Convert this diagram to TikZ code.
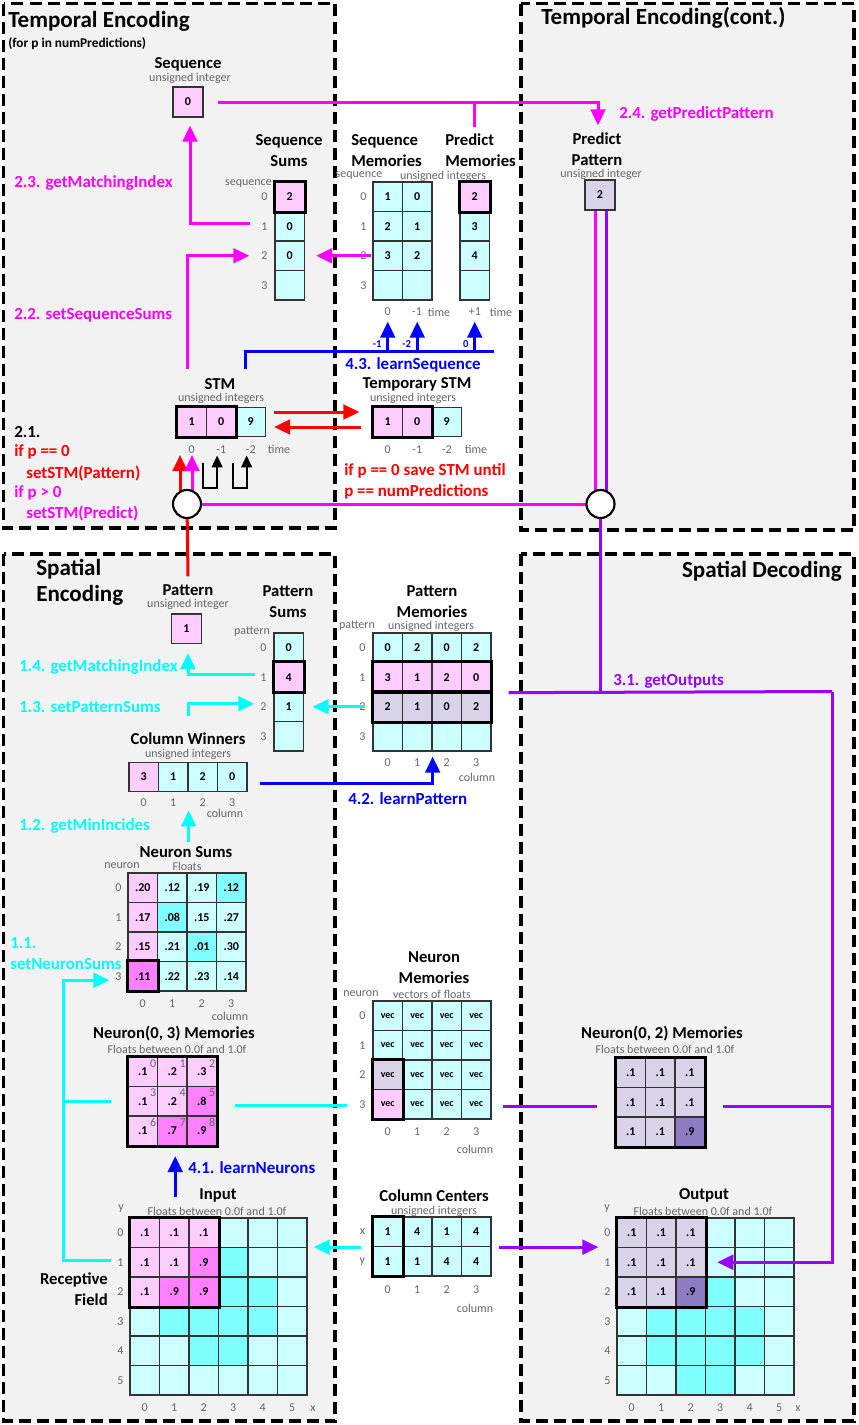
\documentclass[tikz,border=0pt]{standalone}
\usepackage{fontspec}
\setmainfont{Carlito}
\usetikzlibrary{arrows.meta,calc}

\definecolor{panelgray}{HTML}{F2F2F2}
\definecolor{lc}{HTML}{CCFFFF}
\definecolor{dc}{HTML}{80FFFF}
\definecolor{pk}{HTML}{FFCCFF}
\definecolor{mc}{HTML}{FF80FF}
\definecolor{lv}{HTML}{D9D2E9}
\definecolor{dp}{HTML}{8E7CC3}
\definecolor{txtgray}{HTML}{666666}
\definecolor{mgline}{HTML}{FF00FF}
\definecolor{cyline}{HTML}{00FFFF}
\definecolor{puline}{HTML}{9900FF}
\definecolor{blline}{HTML}{0000FF}
\definecolor{rdline}{HTML}{FF0000}

\tikzset{
  panel/.style={draw=black, line width=2.6pt, dash pattern=on 9pt off 4.5pt, fill=panelgray},
  cell/.style={draw=black!80, line width=1pt, minimum size=22.1pt, inner sep=0pt, font=\bfseries\fontsize{9}{10}\selectfont},
  hd/.style={font=\bfseries\fontsize{12.5}{15.75}\selectfont, align=center, inner sep=0pt},
  ttl/.style={font=\bfseries\fontsize{17.3}{19.5}\selectfont, inner sep=0pt, anchor=west},
  sub/.style={font=\fontsize{9}{10}\selectfont, text=txtgray, inner sep=0pt},
  ax/.style={font=\fontsize{9}{10}\selectfont, text=txtgray, inner sep=0pt},
  lbl/.style={font=\bfseries\fontsize{12.7}{15}\selectfont, anchor=west, inner sep=0pt},
  frame/.style={draw=black, line width=2.3pt},
  tip/.style={-{Triangle[length=12pt,width=11pt]}},
  mgl/.style={draw=mgline, line width=2.25pt},
  cyl/.style={draw=cyline, line width=2.25pt},
  pul/.style={draw=puline, line width=2.25pt},
  bll/.style={draw=blline, line width=2.25pt},
  rdl/.style={draw=rdline, line width=2.25pt},
  hub/.style={circle, draw=black, line width=1.6pt, fill=white, minimum size=21pt, inner sep=0pt},
}

% one row of cells: [extra style]{name}{left x}{centre y}{fill/value,...}
\newcommand{\cellrow}[5][]{%
  \foreach \f/\v [count=\c from 0] in {#5} {\node[cell, fill=\f, #1] (#2\c) at ({#3+29.5*\c+14.75},#4) {\v};}}

\begin{document}
\begin{tikzpicture}[x=0.75pt, y=-0.75pt]
\useasboundingbox (0,0) rectangle (858,1425);

% panels
\draw[panel] (3.5,3.5) rectangle (335,528);
\draw[panel] (521,3.5) rectangle (854,530);
\draw[panel] (3.5,554) rectangle (335,1421);
\draw[panel] (521,554) rectangle (854,1421);

\node[ttl] (tenc) at (8,21) {Temporal Encoding};
\node[font=\bfseries\fontsize{10}{12}\selectfont, anchor=west, inner sep=0pt] (forp) at (8,44) {(for p in numPredictions)};
\node[ttl] (tencc) at (541,18) {Temporal Encoding(cont.)};
\node[ttl, align=left] (senc) at (36,582) {Spatial\\Encoding};
\node[ttl, anchor=east] (sdec) at (842,571) {Spatial Decoding};

% ---- temporal encoding
\node[hd] (seqh) at (188,64) {Sequence};
\node[sub] at (190,78) {unsigned integer};
\node[cell, fill=pk, minimum size=22.5pt] (seq) at (188,102) {0};

\node[hd] (ssumh) at (289,150.5) {Sequence\\Sums};
\node[sub, anchor=east] at (272,184) {sequence};
\foreach \f/\v [count=\r from 0] in {pk/2,lc/0,lc/0,lc/{}} {
  \node[cell, fill=\f] (ssum\r) at (289.75,{182+29.5*\r+14.75}) {\v};
  \node[ax] at ([shift={(-10,0)}]ssum\r.west) {\r};}
\draw[frame] (ssum0.north west) rectangle (ssum0.south east);

\node[hd, anchor=west, align=left] (smemh) at (351,150.5) {Sequence\\Memories};
\node[sub] at (359,176) {sequence};
\node[sub] at (443,176) {unsigned integers};
\cellrow{smem0}{373}{196.75}{lc/1,lc/0}
\cellrow{smem1}{373}{226.25}{lc/2,lc/1}
\cellrow{smem2}{373}{255.75}{lc/3,lc/2}
\cellrow{smem3}{373}{285.25}{lc/{},lc/{}}
\foreach \r in {0,...,3} \node[ax] at ([shift={(-9,0)}]smem\r0.west) {\r};
\node[ax] at (387.75,312) {0};
\node[ax] at (417,312) {-1};
\node[ax] at (439,312) {time};

\node[hd, anchor=west, align=left] (pmemh) at (445,150.5) {Predict\\Memories};
\foreach \f/\v [count=\r from 0] in {pk/2,lc/3,lc/4,lc/{}}
  \node[cell, fill=\f] (pmem\r) at (474.75,{182+29.5*\r+14.75}) {\v};
\draw[frame] (pmem0.north west) rectangle (pmem0.south east);
\node[ax] at (475,312) {+1};
\node[ax] at (501,312) {time};

\node[hd] (ppath) at (597,149) {Predict\\Pattern};
\node[sub] at (601,174) {unsigned integer};
\node[cell, fill=lv, minimum size=22.5pt] (ppat) at (600,195) {2};

\node[hd] (stmh) at (220,384) {STM};
\node[sub] at (221,398) {unsigned integers};
\cellrow{stm}{177}{422}{pk/1,pk/0,lc/9}
\draw[frame] (stm0.north west) rectangle (stm1.south east);
\foreach \c/\t in {0/0,1/-1,2/-2} \node[ax] at ([shift={(0,12)}]stm\c.south) {\t};
\node[ax] at (279,449) {time};

\node[hd] (tstmh) at (417,384) {Temporary STM};
\node[sub] at (413,398) {unsigned integers};
\cellrow{tstm}{373}{422}{pk/1,pk/0,lc/9}
\draw[frame] (tstm0.north west) rectangle (tstm1.south east);
\foreach \c/\t in {0/0,1/-1,2/-2} \node[ax] at ([shift={(0,12)}]tstm\c.south) {\t};
\node[ax] at (476,449) {time};

\node[lbl] at (14,432) {2.1.};
\node[lbl, text=rdline] at (14,452) {if p == 0};
\node[lbl, text=rdline] at (26,473) {setSTM(Pattern)};
\node[lbl, text=mgline] at (14,493) {if p > 0};
\node[lbl, text=mgline] at (26,513) {setSTM(Predict)};
\node[lbl, text=mgline] at (14,183) {2.3. getMatchingIndex};
\node[lbl, text=mgline] at (14,315) {2.2. setSequenceSums};
\node[lbl, text=mgline] at (619,114) {2.4. getPredictPattern};
\node[lbl, text=blline] at (345,365) {4.3. learnSequence};
\node[lbl, text=rdline] at (344,471) {if p == 0 save STM until};
\node[lbl, text=rdline] at (344,492) {p == numPredictions};

% ---- spatial encoding
\node[hd] (pattnh) at (188,590) {Pattern};
\node[sub] at (188,604) {unsigned integer};
\node[cell, fill=pk] (pat) at (186.5,628.75) {1};

\node[hd] (psumh) at (288,601.5) {Pattern\\Sums};
\node[sub] at (252,632) {pattern};
\foreach \f/\v [count=\r from 0] in {lc/0,pk/4,lc/1,lc/{}} {
  \node[cell, fill=\f] (psum\r) at (288.75,{633+29.5*\r+14.75}) {\v};
  \node[ax] at ([shift={(-10,0)}]psum\r.west) {\r};}
\draw[frame] (psum1.north west) rectangle (psum1.south east);

\node[hd] (patmh) at (432,601.5) {Pattern\\Memories};
\node[sub] at (357,626) {pattern};
\node[sub] at (431,626) {unsigned integers};
\cellrow{patm0}{373}{647.75}{lc/0,lc/2,lc/0,lc/2}
\cellrow{patm1}{373}{677.25}{pk/3,pk/1,pk/2,pk/0}
\cellrow{patm2}{373}{706.75}{lv/2,lv/1,lv/0,lv/2}
\cellrow{patm3}{373}{736.25}{lc/{},lc/{},lc/{},lc/{}}
\draw[frame] (patm10.north west) rectangle (patm13.south east);
\draw[frame] (patm20.north west) rectangle (patm23.south east);
\foreach \r in {0,...,3} \node[ax] at ([shift={(-10,0)}]patm\r0.west) {\r};
\foreach \c in {0,...,3} \node[ax] at ([shift={(0,11)}]patm3\c.south) {\c};
\node[ax] at (477,777) {column};

\node[hd] (cwinh) at (188,739) {Column Winners};
\node[sub] at (188,754) {unsigned integers};
\cellrow{cwin}{129}{777}{pk/3,lc/1,lc/2,lc/0}
\foreach \c in {0,...,3} \node[ax] at ([shift={(0,10)}]cwin\c.south) {\c};
\node[ax] at (225,813) {column};

\node[hd] (nsumh) at (186,852) {Neuron Sums};
\node[sub] at (122,866) {neuron};
\node[sub] at (187,866) {Floats};
\cellrow{nsum0}{128}{887.75}{pk/.20,lc/.12,lc/.19,dc/.12}
\cellrow{nsum1}{128}{917.25}{pk/.17,dc/.08,lc/.15,lc/.27}
\cellrow{nsum2}{128}{946.75}{pk/.15,lc/.21,dc/.01,lc/.30}
\cellrow{nsum3}{128}{976.25}{mc/.11,lc/.22,lc/.23,lc/.14}
\draw[frame] (nsum30.north west) rectangle (nsum30.south east);
\foreach \r in {0,...,3} \node[ax] at ([shift={(-9,0)}]nsum\r0.west) {\r};
\foreach \c in {0,...,3} \node[ax] at ([shift={(0,12)}]nsum3\c.south) {\c};
\node[ax] at (230,1016) {column};

\node[hd] (nmAh) at (174,1034) {Neuron(0, 3) Memories};
\node[sub] at (177,1049) {Floats between 0.0f and 1.0f};
\cellrow{nmA0}{128}{1071.75}{pk/.1,pk/.2,pk/.3}
\cellrow{nmA1}{128}{1101.25}{pk/.1,pk/.2,mc/.8}
\cellrow{nmA2}{128}{1130.75}{pk/.1,mc/.7,mc/.9}
\draw[frame] (nmA00.north west) rectangle (nmA22.south east);
\foreach \r in {0,1,2} \foreach \c in {0,1,2} {
  \pgfmathtruncatemacro\k{3*\r+\c}
  \node[ax] at ([shift={(-5,7)}]nmA\r\c.north east) {\k};}

\node[hd] (inph) at (218,1195) {Input};
\node[sub] at (217,1211) {Floats between 0.0f and 1.0f};
\node[ax] at (121,1209) {y};
\cellrow{inp0}{130}{1232.75}{pk/.1,pk/.1,pk/.1,lc/{},lc/{},lc/{}}
\cellrow{inp1}{130}{1262.25}{pk/.1,pk/.1,mc/.9,dc/{},lc/{},lc/{}}
\cellrow{inp2}{130}{1291.75}{pk/.1,mc/.9,mc/.9,dc/{},dc/{},lc/{}}
\cellrow{inp3}{130}{1321.25}{lc/{},dc/{},dc/{},dc/{},dc/{},lc/{}}
\cellrow{inp4}{130}{1350.75}{lc/{},lc/{},dc/{},dc/{},lc/{},lc/{}}
\cellrow{inp5}{130}{1380.25}{lc/{},lc/{},lc/{},lc/{},lc/{},lc/{}}
\draw[frame] (inp00.north west) rectangle (inp22.south east);
\foreach \r in {0,...,5} \node[ax] at ([shift={(-9,0)}]inp\r0.west) {\r};
\foreach \c in {0,...,5} \node[ax] at ([shift={(0,12)}]inp5\c.south) {\c};
\node[ax] at (313,1409) {x};
\node[hd, anchor=east, align=right] (rfield) at (108,1289) {Receptive\\Field};

\node[lbl, text=cyline] at (19,667) {1.4. getMatchingIndex};
\node[lbl, text=cyline] at (19,707) {1.3. setPatternSums};
\node[lbl, text=cyline] at (19,826) {1.2. getMinIncides};
\node[lbl, text=cyline] at (10,943) {1.1.};
\node[lbl, text=cyline] at (10,964) {setNeuronSums};
\node[lbl, text=blline] at (348,799) {4.2. learnPattern};
\node[lbl, text=blline] at (188,1168) {4.1. learnNeurons};

% ---- middle
\node[hd] (nmemh) at (434,967.5) {Neuron\\Memories};
\node[sub] at (361,994) {neuron};
\node[sub] at (432,994) {vectors of floats};
\cellrow[font=\bfseries\fontsize{7.5}{8}\selectfont]{nmem0}{373}{1015.75}{lc/vec,lc/vec,lc/vec,lc/vec}
\cellrow[font=\bfseries\fontsize{7.5}{8}\selectfont]{nmem1}{373}{1045.25}{lc/vec,lc/vec,lc/vec,lc/vec}
\cellrow[font=\bfseries\fontsize{7.5}{8}\selectfont]{nmem2}{373}{1074.75}{lv/vec,lc/vec,lc/vec,lc/vec}
\cellrow[font=\bfseries\fontsize{7.5}{8}\selectfont]{nmem3}{373}{1104.25}{pk/vec,lc/vec,lc/vec,lc/vec}
\draw[frame] (nmem20.north west) rectangle (nmem30.south east);
\foreach \r in {0,...,3} \node[ax] at ([shift={(-10,0)}]nmem\r0.west) {\r};
\foreach \c in {0,...,3} \node[ax] at ([shift={(0,12)}]nmem3\c.south) {\c};
\node[ax] at (475,1149) {column};

\node[hd] (ccenh) at (434,1196) {Column Centers};
\node[sub] at (434,1211) {unsigned integers};
\cellrow{ccen0}{373}{1231.75}{lc/1,lc/4,lc/1,lc/4}
\cellrow{ccen1}{373}{1261.25}{lc/1,lc/1,lc/4,lc/4}
\draw[frame] (ccen00.north west) rectangle (ccen10.south east);
\node[ax] at ([shift={(-10,0)}]ccen00.west) {x};
\node[ax] at ([shift={(-10,0)}]ccen10.west) {y};
\foreach \c in {0,...,3} \node[ax] at ([shift={(0,13)}]ccen1\c.south) {\c};
\node[ax] at (475,1308) {column};

% ---- spatial decoding
\node[hd] (nmBh) at (662,1034) {Neuron(0, 2) Memories};
\node[sub] at (665,1049) {Floats between 0.0f and 1.0f};
\cellrow{nmB0}{616}{1072.75}{lv/.1,lv/.1,lv/.1}
\cellrow{nmB1}{616}{1102.25}{lv/.1,lv/.1,lv/.1}
\cellrow{nmB2}{616}{1131.75}{lv/.1,lv/.1,dp/.9}
\draw[frame] (nmB00.north west) rectangle (nmB22.south east);

\node[hd] (outph) at (704,1195) {Output};
\node[sub] at (703,1211) {Floats between 0.0f and 1.0f};
\node[ax] at (607,1209) {y};
\cellrow{outp0}{617}{1232.75}{lv/.1,lv/.1,lv/.1,lc/{},lc/{},lc/{}}
\cellrow{outp1}{617}{1262.25}{lv/.1,lv/.1,lv/.1,lc/{},lc/{},lc/{}}
\cellrow{outp2}{617}{1291.75}{lv/.1,lv/.1,dp/.9,dc/{},lc/{},lc/{}}
\cellrow{outp3}{617}{1321.25}{lc/{},dc/{},dc/{},dc/{},dc/{},lc/{}}
\cellrow{outp4}{617}{1350.75}{lc/{},dc/{},dc/{},dc/{},dc/{},lc/{}}
\cellrow{outp5}{617}{1380.25}{lc/{},lc/{},dc/{},dc/{},lc/{},lc/{}}
\draw[frame] (outp00.north west) rectangle (outp22.south east);
\foreach \r in {0,...,5} \node[ax] at ([shift={(-9,0)}]outp\r0.west) {\r};
\foreach \c in {0,...,5} \node[ax] at ([shift={(0,12)}]outp5\c.south) {\c};
\node[ax] at (798,1409) {x};
\node[lbl, text=puline] at (613,681) {3.1. getOutputs};

% ---- connectors
\coordinate (sc) at (187,504);
\coordinate (rc) at (600.5,504);
\coordinate (pmj) at (474,127);
\coordinate (lsq) at (494,351);
\coordinate (cwup) at (188,716);
\coordinate (cbus) at (63,1101.25);
\coordinate (pbus) at (832,691.5);

\draw[mgl, tip] ([shift={(14,0)}]seq.east) -| ([shift={(1,-7)}]ppath.north);
\draw[mgl] (pmj) -- (pmj |- seq.east);
\draw[mgl, tip] ([shift={(-24,-3)}]ssum1.west) -| ([shift={(2,8)}]seq.south);
\draw[mgl, tip] ([shift={(-4,-38)}]stm0.north) |- ([shift={(-25,0)}]ssum2.west);
\draw[mgl, tip] ([shift={(-1,0)}]smem20.west) -- ([shift={(11,0)}]ssum2.east);
\draw[mgl] (rc) -- (sc);
\draw[mgl] ($(ppat.south)+(-5,0)$) -- ($(ppat.south |- rc)+(-5,0)$);
\draw[pul] ($(ppat.south)+(6,0)$) -- ($(ppat.south |- rc)+(6,0)$);
\draw[rdl] ([shift={(0,-8)}]pattnh.north) -- (sc);
\draw[rdl, tip] ($(sc)+(-7,0)$) -- ++(0,-49);
\draw[mgl, tip] ($(sc)+(5,0)$) -- ++(0,-49);
\foreach \c in {0,1}
  \draw[line width=1.6pt, -{Triangle[length=9pt,width=8pt]}] ([shift={(-4,26)}]stm\c.south east) -- ++(0,25) -- ++(14,0) -- ++(0,-33);
\draw[rdl, tip] ([shift={(8,-10)}]stm2.east) -- ([shift={(-13,-10)}]tstm0.west);
\draw[rdl, tip] ([shift={(-11,5)}]tstm0.west) -- ([shift={(8,5)}]stm2.east);
\draw[bll] ([shift={(-5,-38)}]stm2.north) |- (lsq);
\foreach \n/\t in {smem30/-1,smem31/-2,pmem3/0} {
  \draw[bll, tip] (\n.south |- lsq) -- ([shift={(0,21)}]\n.south);
  \node[font=\bfseries\fontsize{8}{9}\selectfont, text=blline, anchor=east, inner sep=0pt] at ($(\n.south |- lsq)+(-6,-7)$) {\t};}

\draw[cyl, tip] ([shift={(-18,-3)}]psum1.west) -| ([shift={(1.5,9)}]pat.south);
\draw[cyl, tip] (cwup) |- ([shift={(-19,-3)}]psum2.west);
\draw[cyl, tip] ([shift={(-7,0)}]patm20.west) -- ([shift={(8.5,0)}]psum2.east);
\draw[cyl, tip] ([shift={(0,50)}]cwin1.south east) -- ([shift={(0,18)}]cwin1.south east);
\draw[bll, tip] ([shift={(12,6)}]cwin3.east) -| ([shift={(0,5)}]patm31.south east);
\draw[cyl, tip] ([shift={(-18,-2)}]inp10.west) -| (cbus) |- ([shift={(-18,4)}]nsum30.west);
\draw[cyl] (cbus) -- ([shift={(-16,0)}]nmA10.west);
\draw[cyl] ([shift={(18,4)}]nmA12.east) -- ([shift={(-25,1)}]nmem30.west);
\draw[cyl, tip] ([shift={(-11,0)}]ccen00.south west) -- ([shift={(6,-1)}]inp05.south east);
\draw[bll, tip] ([shift={(3,51)}]nmA21.south) -- ([shift={(3,10)}]nmA21.south);

\draw[pul] (rc) -- (rc |- pbus);
\draw[pul] ([shift={(17,0)}]patm13.south east) -- (pbus);
\draw[pul, tip] (pbus) |- ([shift={(-3,0)}]outp13.center);
\draw[pul] ([shift={(11,2)}]nmem33.east) -- ([shift={(-18,4)}]nmB10.west);
\draw[pul] ([shift={(18,4)}]nmB12.east) -- ($(nmB12.east -| pbus)+(0,4)$);
\draw[pul, tip] ([shift={(7,0)}]ccen03.south east) -- ([shift={(-18,-1)}]outp00.south west);

\node[hub] (shub) at (sc) {};
\node[hub] (rhub) at (rc) {};
\end{tikzpicture}
\end{document}
